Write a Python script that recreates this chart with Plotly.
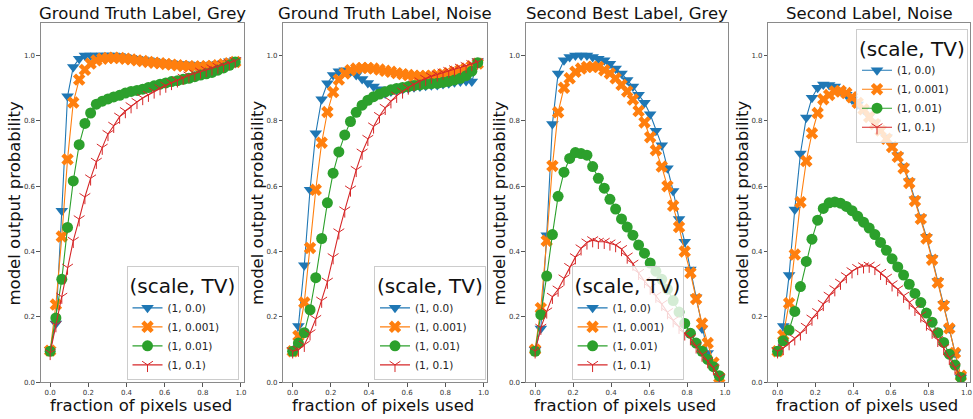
import plotly.graph_objects as go

W, H = 973, 419

x_frac = [0.0, 0.03, 0.061, 0.091, 0.121, 0.152, 0.182, 0.212, 0.242, 0.273, 0.303,
          0.333, 0.364, 0.394, 0.424, 0.455, 0.485, 0.515, 0.545, 0.576, 0.606, 0.636,
          0.667, 0.697, 0.727, 0.758, 0.788, 0.818, 0.848, 0.879, 0.909, 0.939, 0.97]

series_names = ["(1, 0.0)", "(1, 0.001)", "(1, 0.01)", "(1, 0.1)"]
panel_titles = ["Ground Truth Label, Grey", "Ground Truth Label, Noise",
                "Second Best Label, Grey", "Second Label, Noise"]
x_ticks = [0.0, 0.2, 0.4, 0.6, 0.8, 1.0]
y_ticks = [0.0, 0.2, 0.4, 0.6, 0.8, 1.0]

# Panel 1: Ground Truth Label, Grey
gt_grey_tv0 = [0.10, 0.18, 0.525, 0.875, 0.965, 0.99, 1.0, 1.0, 1.0, 1.0, 1.0, 1.0, 0.998,
               0.995, 0.993, 0.99, 0.988, 0.985, 0.983, 0.98, 0.978, 0.976, 0.975, 0.973,
               0.972, 0.97, 0.97, 0.97, 0.972, 0.975, 0.978, 0.982, 0.985]
gt_grey_tv001 = [0.097, 0.238, 0.446, 0.682, 0.856, 0.926, 0.956, 0.975, 0.985, 0.99, 0.992,
                 0.993, 0.992, 0.99, 0.988, 0.985, 0.983, 0.98, 0.978, 0.976, 0.974, 0.972,
                 0.97, 0.968, 0.967, 0.966, 0.966, 0.967, 0.968, 0.97, 0.973, 0.976, 0.98]
gt_grey_tv01 = [0.095, 0.197, 0.315, 0.474, 0.616, 0.727, 0.792, 0.824, 0.851, 0.86, 0.867,
                0.873, 0.878, 0.885, 0.89, 0.893, 0.897, 0.902, 0.907, 0.912, 0.916, 0.92,
                0.923, 0.927, 0.93, 0.935, 0.94, 0.944, 0.948, 0.955, 0.962, 0.97, 0.98]
gt_grey_tv1 = [0.09, 0.175, 0.262, 0.351, 0.433, 0.499, 0.567, 0.624, 0.675, 0.718, 0.76,
               0.785, 0.813, 0.83, 0.845, 0.858, 0.87, 0.88, 0.89, 0.9, 0.908, 0.916, 0.924,
               0.932, 0.939, 0.945, 0.951, 0.956, 0.961, 0.966, 0.971, 0.977, 0.983]

# Panel 2: Ground Truth Label, Noise
gt_noise_tv0 = [0.10, 0.172, 0.358, 0.589, 0.762, 0.866, 0.915, 0.94, 0.952, 0.955, 0.95,
                0.94, 0.928, 0.916, 0.905, 0.897, 0.884, 0.89, 0.894, 0.897, 0.9, 0.903,
                0.905, 0.907, 0.909, 0.91, 0.913, 0.915, 0.918, 0.92, 0.922, 0.92, 0.982]
gt_noise_tv001 = [0.095, 0.142, 0.244, 0.411, 0.589, 0.733, 0.827, 0.888, 0.926, 0.945, 0.955,
                  0.96, 0.962, 0.962, 0.96, 0.957, 0.953, 0.95, 0.946, 0.943, 0.94, 0.938,
                  0.937, 0.937, 0.938, 0.94, 0.943, 0.946, 0.95, 0.955, 0.96, 0.967, 0.975]
gt_noise_tv01 = [0.095, 0.12, 0.152, 0.222, 0.32, 0.44, 0.549, 0.64, 0.705, 0.757, 0.798,
                 0.826, 0.848, 0.863, 0.874, 0.882, 0.889, 0.895, 0.899, 0.902, 0.905, 0.908,
                 0.91, 0.912, 0.914, 0.915, 0.918, 0.921, 0.925, 0.93, 0.938, 0.952, 0.978]
gt_noise_tv1 = [0.095, 0.10, 0.115, 0.15, 0.194, 0.25, 0.308, 0.383, 0.459, 0.526, 0.59,
                0.65, 0.703, 0.745, 0.783, 0.815, 0.84, 0.86, 0.877, 0.89, 0.902, 0.912,
                0.921, 0.929, 0.936, 0.942, 0.948, 0.953, 0.958, 0.963, 0.968, 0.974, 0.98]

# Panel 3: Second Best Label, Grey
sb_grey_tv0 = [0.10, 0.165, 0.45, 0.79, 0.945, 0.985, 0.995, 1.0, 1.0, 1.0, 0.995, 0.99,
               0.985, 0.975, 0.96, 0.945, 0.925, 0.905, 0.88, 0.855, 0.82, 0.77, 0.725,
               0.655, 0.585, 0.50, 0.43, 0.345, 0.26, 0.165, 0.09, 0.045, 0.015]
sb_grey_tv001 = [0.10, 0.227, 0.433, 0.662, 0.826, 0.901, 0.93, 0.95, 0.96, 0.965, 0.965,
                 0.965, 0.955, 0.945, 0.93, 0.91, 0.89, 0.865, 0.83, 0.795, 0.75, 0.71,
                 0.66, 0.60, 0.54, 0.475, 0.40, 0.335, 0.255, 0.18, 0.12, 0.06, 0.015]
sb_grey_tv01 = [0.095, 0.207, 0.325, 0.452, 0.569, 0.643, 0.685, 0.703, 0.70, 0.695, 0.66,
                0.624, 0.594, 0.56, 0.53, 0.50, 0.475, 0.45, 0.42, 0.395, 0.365, 0.34,
                0.315, 0.285, 0.25, 0.215, 0.18, 0.15, 0.12, 0.095, 0.07, 0.048, 0.02]
sb_grey_tv1 = [0.095, 0.167, 0.217, 0.262, 0.284, 0.318, 0.353, 0.383, 0.41, 0.428, 0.435,
               0.43, 0.43, 0.425, 0.42, 0.408, 0.385, 0.363, 0.335, 0.31, 0.29, 0.265,
               0.24, 0.215, 0.19, 0.17, 0.15, 0.135, 0.11, 0.085, 0.065, 0.045, 0.015]

# Panel 4: Second Label, Noise
sl_noise_tv0 = [0.10, 0.172, 0.328, 0.529, 0.70, 0.81, 0.871, 0.901, 0.911, 0.91, 0.905,
                0.893, 0.88, 0.865, 0.85, 0.835, 0.815, 0.795, 0.775, 0.75, 0.725, 0.695,
                0.66, 0.615, 0.56, 0.505, 0.445, 0.38, 0.31, 0.24, 0.165, 0.09, 0.015]
sl_noise_tv001 = [0.095, 0.144, 0.242, 0.391, 0.551, 0.677, 0.762, 0.824, 0.866, 0.879, 0.89,
                  0.891, 0.885, 0.872, 0.855, 0.835, 0.812, 0.79, 0.77, 0.745, 0.72, 0.69,
                  0.655, 0.61, 0.555, 0.50, 0.44, 0.375, 0.305, 0.235, 0.165, 0.09, 0.02]
sl_noise_tv01 = [0.095, 0.127, 0.16, 0.217, 0.293, 0.37, 0.438, 0.496, 0.532, 0.549, 0.552,
                 0.548, 0.538, 0.525, 0.508, 0.49, 0.472, 0.452, 0.428, 0.404, 0.378, 0.353,
                 0.328, 0.30, 0.272, 0.244, 0.212, 0.184, 0.152, 0.122, 0.086, 0.053, 0.015]
sl_noise_tv1 = [0.095, 0.105, 0.12, 0.135, 0.15, 0.17, 0.195, 0.215, 0.24, 0.265, 0.285,
                0.305, 0.325, 0.34, 0.35, 0.355, 0.357, 0.35, 0.335, 0.32, 0.30, 0.285,
                0.265, 0.245, 0.225, 0.205, 0.18, 0.155, 0.13, 0.105, 0.075, 0.045, 0.015]

panels = [
    [gt_grey_tv0, gt_grey_tv001, gt_grey_tv01, gt_grey_tv1],
    [gt_noise_tv0, gt_noise_tv001, gt_noise_tv01, gt_noise_tv1],
    [sb_grey_tv0, sb_grey_tv001, sb_grey_tv01, sb_grey_tv1],
    [sl_noise_tv0, sl_noise_tv001, sl_noise_tv01, sl_noise_tv1],
]

colors = ["#1f77b4", "#ff7f0e", "#2ca02c", "#d62728"]
symbols = ["triangle-down", "x", "circle", "y-down"]
sizes = [11, 11, 11, 9]

# pixel geometry of each axes box (left, right), shared top/bottom
ax_lr = [(41, 245), (284, 488), (527, 730), (770, 972)]
ax_top, ax_bot = 23, 386
# legend placement (x px, y px, xanchor, yanchor)
leg_pos = [(239, 384, "right", "bottom"), (487, 384, "right", "bottom"),
           (685, 384, "right", "bottom"), (970, 29, "right", "top")]

FONT = "DejaVu Sans"
fig = go.Figure()

for p, data in enumerate(panels):
    xa = "x" if p == 0 else f"x{p+1}"
    ya = "y" if p == 0 else f"y{p+1}"
    lg = "legend" if p == 0 else f"legend{p+1}"
    for s, vals in enumerate(data):
        marker = dict(symbol=symbols[s], size=sizes[s], color=colors[s])
        if symbols[s] == "y-down":
            marker["line"] = dict(color=colors[s], width=1)
        else:
            marker["line"] = dict(width=0)
        fig.add_trace(go.Scatter(
            x=x_frac, y=vals, mode="lines+markers", name=series_names[s],
            line=dict(color=colors[s], width=1.1), marker=marker,
            xaxis=xa, yaxis=ya, legend=lg))

layout = dict(
    width=W, height=H, margin=dict(l=0, r=0, t=0, b=0),
    paper_bgcolor="white", plot_bgcolor="white",
    font=dict(family=FONT, color="#222"),
    annotations=[],
)

axis_common = dict(showgrid=False, zeroline=False, showline=True, mirror=True,
                   linecolor="#8a8a8a", linewidth=1, ticks="outside", ticklen=3.5,
                   tickwidth=0.8, tickcolor="#555",
                   tickfont=dict(family=FONT, size=7, color="#333"))

for p in range(4):
    l, r = ax_lr[p]
    sfx = "" if p == 0 else str(p + 1)
    layout[f"xaxis{sfx}"] = dict(axis_common, domain=[l / W, r / W], range=[-0.0485, 1.0185],
                                 tickvals=x_ticks, tickformat=".1f",
                                 anchor=f"y{sfx}")
    layout[f"yaxis{sfx}"] = dict(axis_common, domain=[1 - ax_bot / H, 1 - ax_top / H],
                                 range=[0, 1.1], tickvals=y_ticks, tickformat=".1f",
                                 anchor=f"x{sfx}")
    cx = (l + r) / 2
    layout["annotations"].append(dict(
        text=panel_titles[p], x=cx / W, y=1 - 14 / H, xref="paper", yref="paper",
        xanchor="center", yanchor="middle", showarrow=False,
        font=dict(family=FONT, size=16.5, color="#111")))
    layout["annotations"].append(dict(
        text="fraction of pixels used", x=(cx - 2) / W, y=1 - 409.5 / H, xref="paper",
        yref="paper", xanchor="center", yanchor="middle", showarrow=False,
        font=dict(family=FONT, size=16.5, color="#111")))
    layout["annotations"].append(dict(
        text="model output probability", x=(l - 26) / W, y=1 - ((ax_top + ax_bot) / 2) / H,
        xref="paper", yref="paper", xanchor="center", yanchor="middle", textangle=-90,
        showarrow=False, font=dict(family=FONT, size=16.5, color="#111")))
    lx, ly, xan, yan = leg_pos[p]
    layout[f"legend{sfx}"] = dict(
        x=lx / W, y=1 - ly / H, xanchor=xan, yanchor=yan, xref="paper", yref="paper",
        bgcolor="rgba(255,255,255,0.8)", bordercolor="#cccccc", borderwidth=1,
        font=dict(family=FONT, size=10.5, color="#222"),
        title=dict(text="(scale, TV)", font=dict(family=FONT, size=20, color="#111"),
                   side="top"),
        tracegroupgap=0, itemwidth=30)

fig.update_layout(**layout)
fig.write_html("out.html")
